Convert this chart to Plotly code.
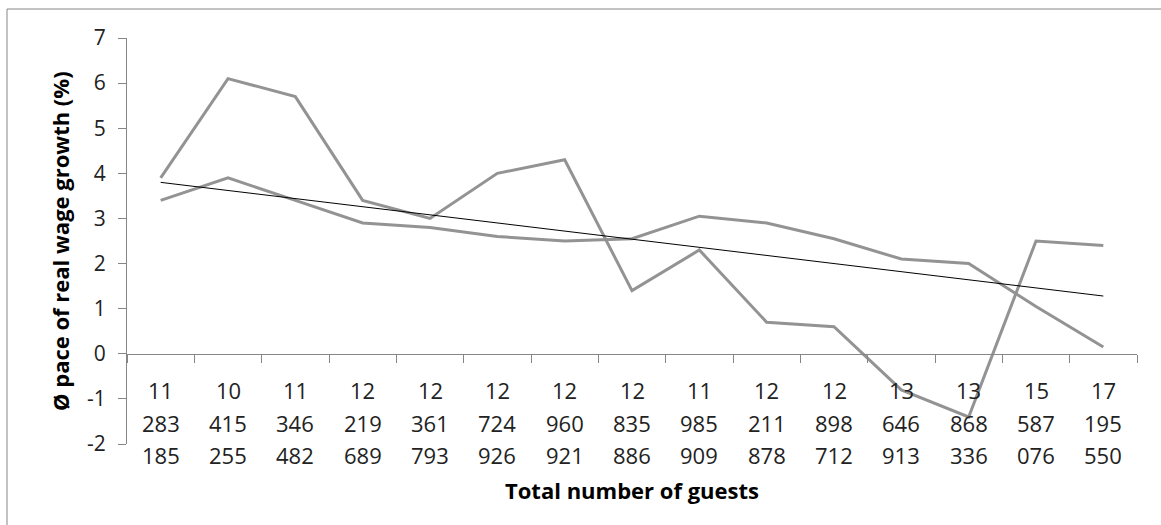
import plotly.graph_objects as go

# Data
line1 = ["11", "10", "11", "12", "12", "12", "12", "12", "11", "12", "12", "13", "13", "15", "17"]
line2 = ["283", "415", "346", "219", "361", "724", "960", "835", "985", "211", "898", "646", "868", "587", "195"]
line3 = ["185", "255", "482", "689", "793", "926", "921", "886", "909", "878", "712", "913", "336", "076", "550"]
categories = [f"{a} {b} {c}" for a, b, c in zip(line1, line2, line3)]

series_a = [3.9, 6.1, 5.7, 3.4, 3.0, 4.0, 4.3, 1.4, 2.3, 0.7, 0.6, -0.8, -1.4, 2.5, 2.4]
series_b = [3.4, 3.9, 3.4, 2.9, 2.8, 2.6, 2.5, 2.55, 3.05, 2.9, 2.55, 2.1, 2.0, 1.05, 0.15]
trend_cats = [categories[0], categories[-1]]
trend_vals = [3.8, 1.28]

y_ticks = [-2, -1, 0, 1, 2, 3, 4, 5, 6, 7]
y_ticktext = ["-2", "-1", "0", "1", "2", "3", "4", "5", "6", "7"]
y_min, y_max = -2, 7

GRAY = "#939393"
AXIS = "#868686"
FONT = "Open Sans"

fig = go.Figure()
fig.add_trace(go.Scatter(x=categories, y=series_a, mode="lines",
                         line=dict(color=GRAY, width=3), showlegend=False))
fig.add_trace(go.Scatter(x=categories, y=series_b, mode="lines",
                         line=dict(color=GRAY, width=3), showlegend=False))
fig.add_trace(go.Scatter(x=trend_cats, y=trend_vals, mode="lines",
                         line=dict(color="black", width=1), showlegend=False))

zero_pos = (0 - y_min) / (y_max - y_min)

fig.update_layout(
    width=1161, height=525,
    margin=dict(l=127, r=24, t=38, b=81),
    paper_bgcolor="white", plot_bgcolor="white",
    font=dict(family=FONT, color="#222222"),
    xaxis=dict(type="category", categoryorder="array", categoryarray=categories,
               range=[-0.5, len(categories) - 0.5],
               showticklabels=False, tickson="boundaries", ticks="outside",
               ticklen=8, tickcolor=AXIS, showline=True, linecolor=AXIS, linewidth=1,
               showgrid=False, zeroline=False, anchor="free", position=zero_pos),
    yaxis=dict(range=[y_min, y_max], tickvals=y_ticks, ticktext=y_ticktext,
               ticks="outside", ticklen=8, ticklabelstandoff=8,
               tickcolor=AXIS, showline=True, linecolor=AXIS, linewidth=1,
               showgrid=False, zeroline=False,
               tickfont=dict(family=FONT, size=21, color="#222222")),
)

# category labels (3 rows)
for cat, a, b, c in zip(categories, line1, line2, line3):
    for txt, shift in ((a, -36), (b, -69), (c, -101)):
        fig.add_annotation(x=cat, y=0, xref="x", yref="y", text=txt, showarrow=False,
                           yanchor="middle", xanchor="center", yshift=shift,
                           font=dict(family=FONT, size=22, color="#222222"))

# axis titles
fig.add_annotation(x=0.5, y=(444 - 490) / 406, xref="paper", yref="paper",
                   text="<b>Total number of guests</b>", showarrow=False,
                   xanchor="center", yanchor="middle",
                   font=dict(family=FONT, size=22, color="black"))
fig.add_annotation(x=(60 - 127) / 1010, y=0.5, xref="paper", yref="paper",
                   text="<b>Ø pace of real wage growth (%)</b>", showarrow=False,
                   textangle=-90, xanchor="center", yanchor="middle",
                   font=dict(family=FONT, size=22, color="black"))

# outer chart border
fig.add_shape(type="rect", xref="paper", yref="paper",
              x0=(7 - 127) / 1010, x1=1.2, y0=-0.5, y1=(444 - 9) / 406,
              line=dict(color=AXIS, width=1), layer="below")

fig.write_html("out.html")
